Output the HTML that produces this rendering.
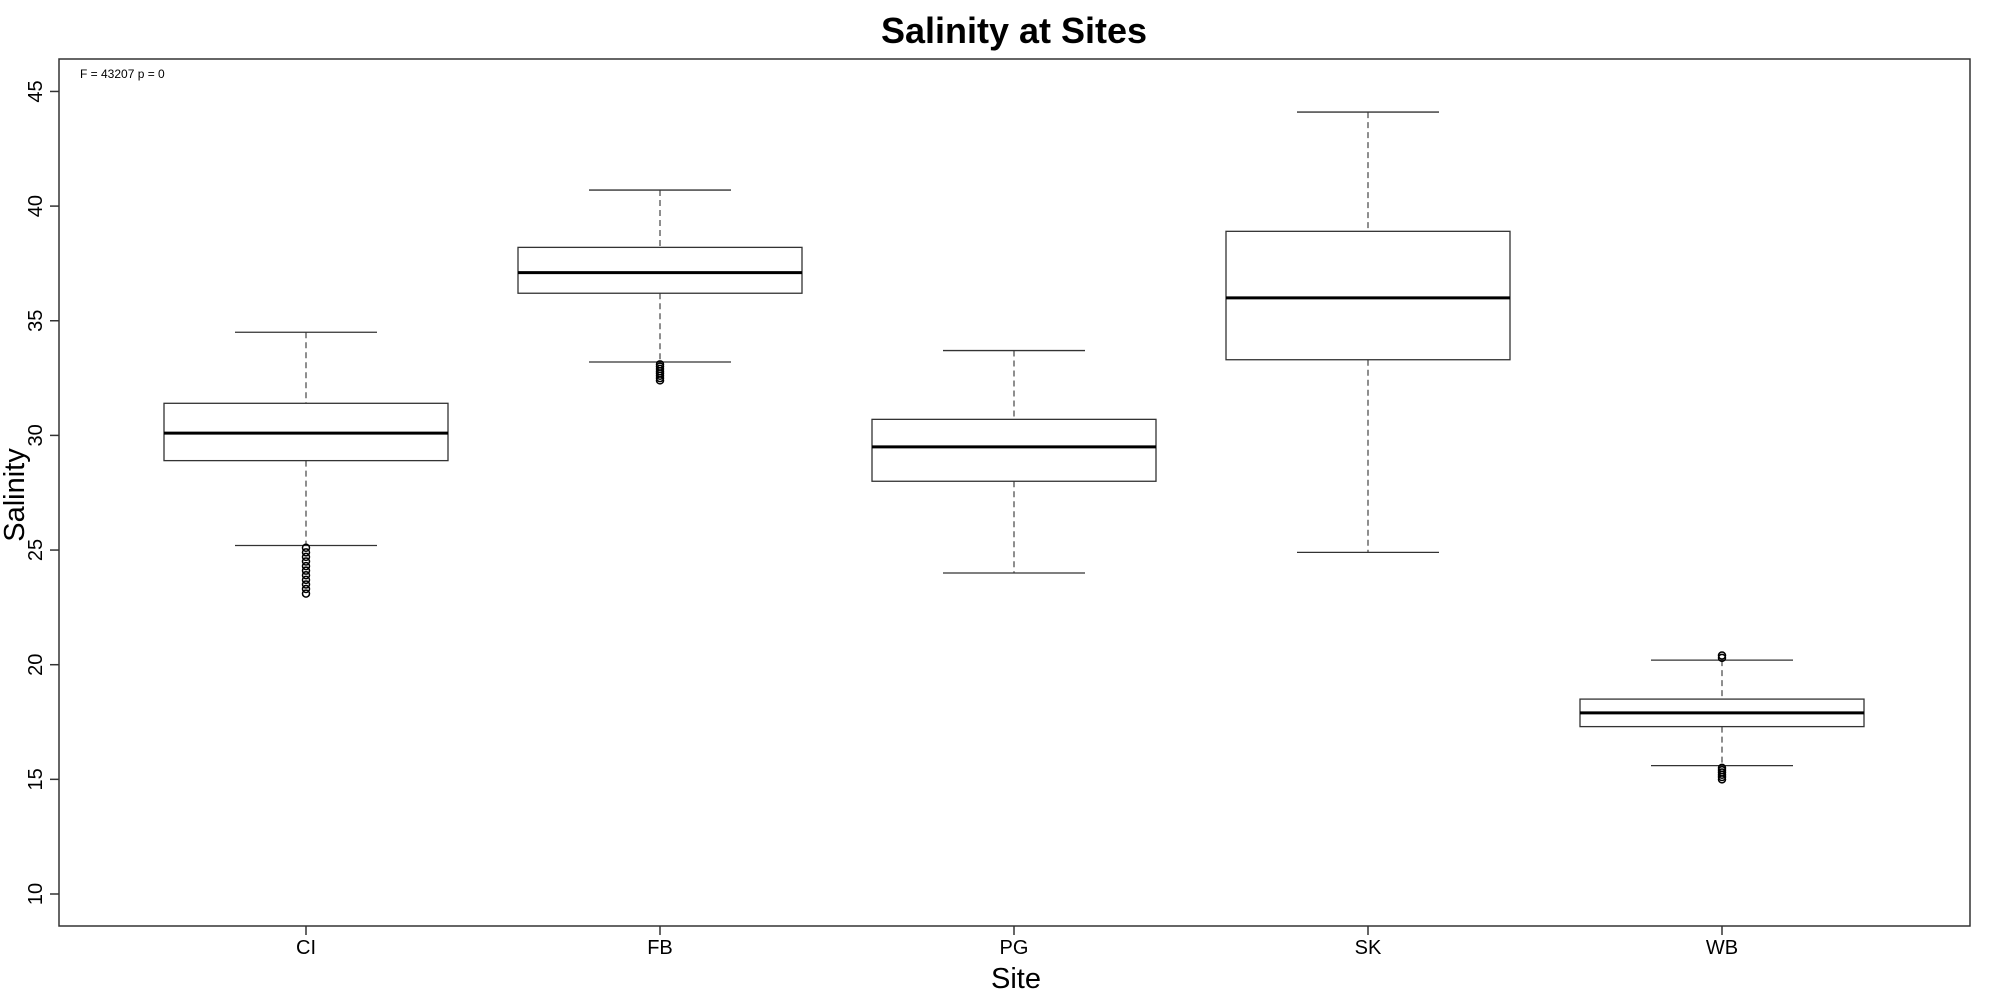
<!DOCTYPE html>
<html><head><meta charset="utf-8"><style>
html,body{margin:0;padding:0;background:#fff}
svg{display:block;font-family:"Liberation Sans",sans-serif}
</style></head><body>
<svg id="chart" width="2000" height="1000" viewBox="0 0 2000 1000">
<text x="1014" y="43" text-anchor="middle" font-size="36" font-weight="bold">Salinity at Sites</text>
<rect x="59" y="59" width="1911" height="867" fill="none" stroke="#333" stroke-width="1.5"/>
<text x="80" y="78" font-size="12">F = 43207 p = 0</text>
<text x="1016" y="988" text-anchor="middle" font-size="29">Site</text>
<text transform="translate(24,495) rotate(-90)" text-anchor="middle" font-size="29">Salinity</text>
<g id="yaxis"></g>
<g id="xaxis"></g>
<g id="boxes"></g>
</svg>
<script>
const categories = ["CI","FB","PG","SK","WB"];
const whiskerHigh = [34.5, 40.7, 33.7, 44.1, 20.2];
const q3Values = [31.4, 38.2, 30.7, 38.9, 18.5];
const medians = [30.1, 37.1, 29.5, 36.0, 17.9];
const q1Values = [28.9, 36.2, 28.0, 33.3, 17.3];
const whiskerLow = [25.2, 33.2, 24.0, 24.9, 15.6];
const outliers = [
  [25.1,24.9,24.7,24.5,24.3,24.1,23.9,23.7,23.5,23.3,23.1],
  [33.1,33.0,32.9,32.8,32.7,32.6,32.5,32.4],
  [],
  [],
  [15.5,15.4,15.3,15.2,15.1,15.0,20.3,20.4]
];
const yTicks = [10,15,20,25,30,35,40,45];

const NS="http://www.w3.org/2000/svg";
const y = v => 894 - (v-10)*22.93;
const x = i => 306 + i*354;
function mk(tag, attrs, parent){const e=document.createElementNS(NS,tag);for(const k in attrs)e.setAttribute(k,attrs[k]);parent.appendChild(e);return e;}
const ya=document.getElementById('yaxis'), xa=document.getElementById('xaxis'), bx=document.getElementById('boxes');
yTicks.forEach(t=>{
  const l=mk('line',{x1:50,x2:59,y1:y(t),y2:y(t),stroke:'#333','stroke-width':1.5},ya);
  
  
  const tx=mk('text',{transform:`translate(42,${y(t)}) rotate(-90)`,'text-anchor':'middle','font-size':20},ya);
  tx.textContent=t;
  
  
});
categories.forEach((c,i)=>{
  const cx=x(i);
  const l=mk('line',{x1:cx,x2:cx,y1:926,y2:935,stroke:'#333','stroke-width':1.5},xa);
  
  
  const tx=mk('text',{x:cx,y:954,'text-anchor':'middle','font-size':20},xa);
  tx.textContent=c;
  
  
  const g=mk('g',{},bx);
  
  
  mk('line',{x1:cx,x2:cx,y1:y(whiskerHigh[i]),y2:y(q3Values[i]),stroke:'#444','stroke-width':1.2,'stroke-dasharray':'6,4'},g);
  mk('line',{x1:cx,x2:cx,y1:y(q1Values[i]),y2:y(whiskerLow[i]),stroke:'#444','stroke-width':1.2,'stroke-dasharray':'6,4'},g);
  mk('line',{x1:cx-71,x2:cx+71,y1:y(whiskerHigh[i]),y2:y(whiskerHigh[i]),stroke:'#333','stroke-width':1.3},g);
  mk('line',{x1:cx-71,x2:cx+71,y1:y(whiskerLow[i]),y2:y(whiskerLow[i]),stroke:'#333','stroke-width':1.3},g);
  mk('rect',{x:cx-142,y:y(q3Values[i]),width:284,height:y(q1Values[i])-y(q3Values[i]),fill:'#fff',stroke:'#333','stroke-width':1.3},g);
  mk('line',{x1:cx-142,x2:cx+142,y1:y(medians[i]),y2:y(medians[i]),stroke:'#000','stroke-width':3},g);
  outliers[i].forEach(o=>{
    const p=mk('circle',{cx:cx,cy:y(o),r:3.5,fill:'none',stroke:'#000','stroke-width':1.5},g);
    
    
  });
});
</script>
</body></html>
